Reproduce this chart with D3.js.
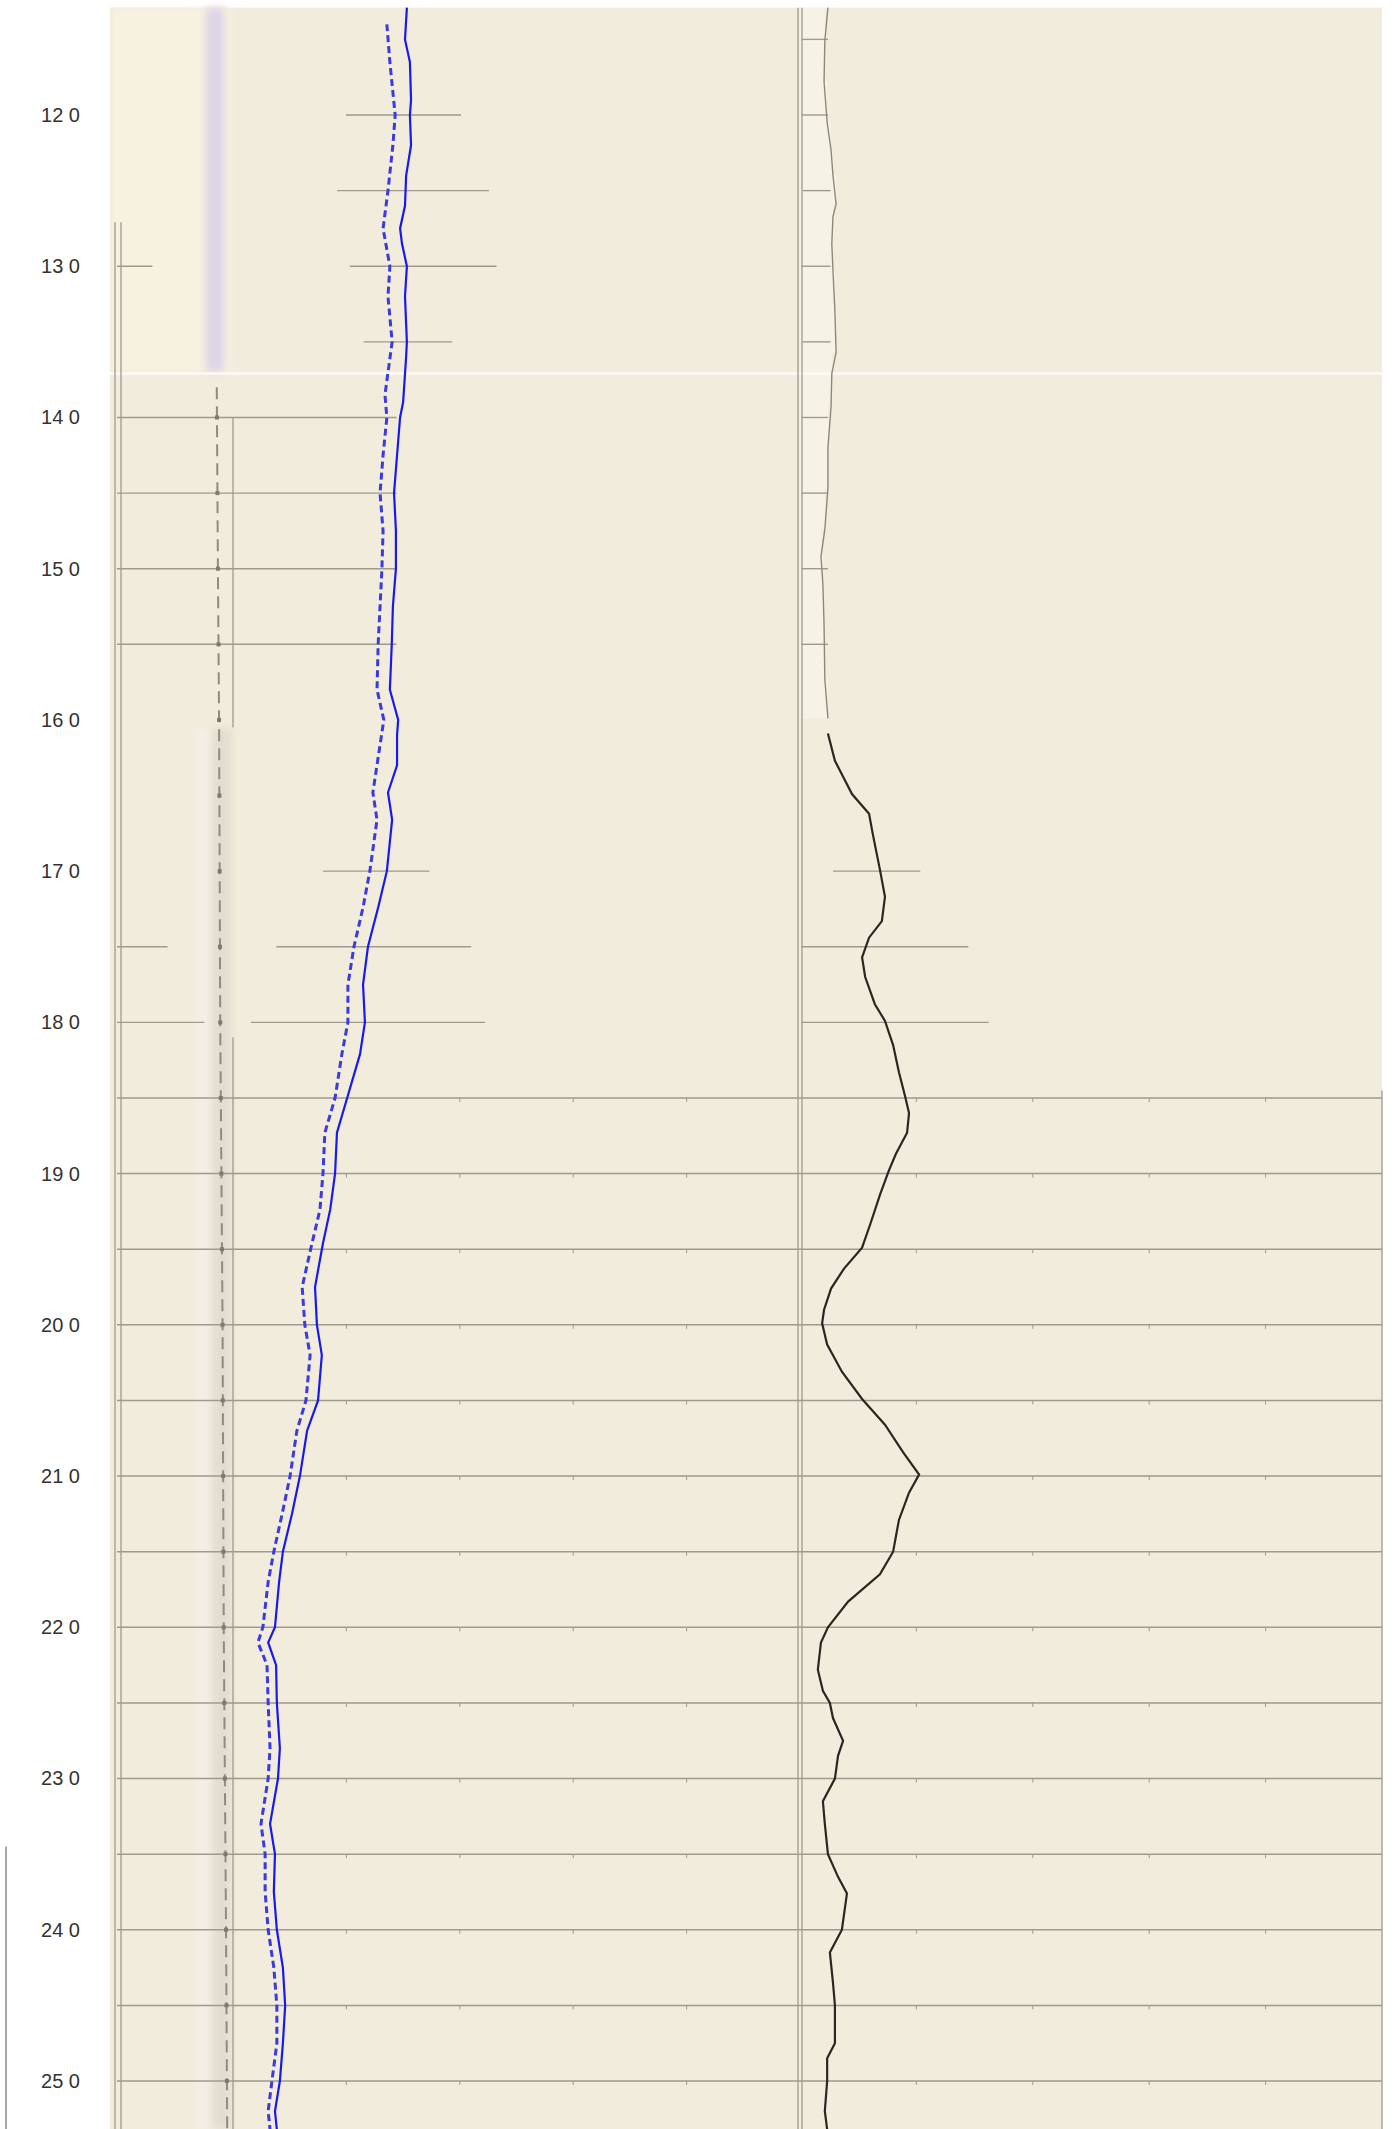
<!DOCTYPE html>
<html>
<head>
<meta charset="utf-8">
<script src="https://cdn.jsdelivr.net/npm/d3@7"></script>
<style>
    body { margin: 0; background: #fff; }
    svg { display: block; }
</style>
</head>
<body>
<div id="chart-area"></div>
<script>
// depth labels every 10, grid every 5
const depthTicks = d3.range(120, 251, 10);
const gridDepths = d3.range(115, 251, 5);

// blue solid curve (track 1) [depth, value]
const solidCurve = [
    [112.9, 46.0], [115, 45.5], [116.5, 46.8], [119, 47.1], [120, 46.8], [122, 47.1], [124, 45.8],
    [126, 45.5], [127.5, 44.2], [128.5, 44.7], [130, 46.0], [132, 45.5], [135, 46.0], [136, 45.8],
    [139, 45.0], [140, 44.2], [142.5, 43.4], [145, 42.6], [147.5, 43.1], [150, 43.1], [152.5, 42.3],
    [155, 42.0], [158, 41.5], [160, 43.7], [161, 43.4], [163, 43.4], [164.8, 41.0], [166.6, 42.1],
    [170, 40.7], [172.4, 38.4], [175, 35.7], [177.5, 34.4], [180, 34.9], [182.1, 33.6], [185, 30.2],
    [187.3, 27.5], [190, 27.0], [192.4, 25.7], [194.6, 23.8], [197.5, 21.7], [200, 22.2], [202, 23.5],
    [205, 22.5], [207, 19.6], [210, 17.7], [212.5, 15.6], [215, 13.2], [217, 12.2], [220, 11.1],
    [221, 9.3], [222.5, 11.4], [225, 11.6], [228, 12.4], [230, 11.9], [233, 9.8], [235, 11.1],
    [237.5, 10.8], [240, 11.6], [242.5, 13.2], [245, 13.8], [247.5, 13.2], [250, 12.4], [252, 11.1],
    [253.2, 11.6]
];

// blue dashed curve (track 1)
const dashedCurve = [
    [114, 40.7], [116.5, 41.5], [120, 42.9], [122, 42.3], [125, 41.0], [127.5, 39.7], [130, 41.5],
    [132, 41.0], [135, 42.1], [138.5, 40.2], [140, 40.7], [142.5, 39.7], [145, 38.9], [147.5, 39.7],
    [150, 39.4], [152.5, 38.9], [155, 38.4], [158, 38.1], [160, 39.9], [164.8, 37.0], [166.6, 38.1],
    [170, 36.2], [172.4, 34.4], [175, 32.0], [177.5, 30.4], [180, 30.4], [182.1, 28.8], [185, 27.0],
    [187.3, 24.3], [190, 23.8], [192.4, 23.0], [194.6, 20.9], [197.5, 18.3], [200, 19.0], [202, 20.4],
    [205, 19.3], [207, 16.9], [210, 15.1], [212.5, 13.0], [215, 10.8], [217, 9.3], [220, 7.9],
    [221, 6.6], [222.5, 9.0], [225, 9.3], [228, 9.8], [230, 9.3], [233, 7.4], [235, 8.5],
    [237.5, 8.5], [240, 9.3], [242.5, 10.8], [245, 11.6], [247.5, 11.6], [250, 10.3], [252, 9.3],
    [253.2, 9.8]
];

// black curve (track 2)
const blackCurve = [
    [160.9, 7.2], [162.7, 9.0], [164.9, 13.4], [166.2, 17.8], [167.6, 18.8], [169.9, 20.6], [171.7, 21.9],
    [173.3, 21.1], [174.4, 17.8], [175.7, 16.0], [177.0, 16.8], [178.8, 19.3], [179.9, 21.9], [181.5, 24.0],
    [183.3, 25.5], [184.9, 27.1], [186.0, 28.1], [187.3, 27.6], [188.7, 24.7], [189.8, 22.9], [191.4, 20.6],
    [193.2, 18.3], [194.9, 16.0], [196.3, 11.3], [197.6, 8.0], [199.0, 6.2], [199.9, 5.7], [201.3, 7.0],
    [203.1, 10.8], [204.9, 16.0], [206.6, 21.9], [208.4, 26.5], [209.9, 30.7], [211.1, 28.1], [212.9, 25.5],
    [215.0, 24.0], [216.5, 20.6], [218.3, 12.4], [220.0, 7.2], [221.0, 5.4], [222.8, 4.6], [224.2, 5.9],
    [225.0, 7.7], [226.0, 8.5], [227.5, 11.1], [228.5, 9.8], [230.0, 9.0], [231.5, 5.9], [233.0, 6.4],
    [235.0, 7.2], [236.5, 9.8], [237.6, 12.1], [240.0, 10.8], [241.5, 7.7], [243.5, 8.5], [245.0, 9.0],
    [247.5, 9.0], [248.5, 7.0], [250.0, 7.0], [252.0, 6.4], [253.2, 7.0]
];

// faint edge line at the top of track 2
const upperEdge = [
    [112.9, 7.2], [115.1, 6.4], [117.8, 6.2], [120.5, 7.0], [122.3, 8.0], [124.0, 8.5], [125.9, 9.3],
    [126.7, 8.5], [128.5, 8.2], [130.3, 8.5], [133.0, 9.0], [135.7, 9.3], [137.1, 8.2], [139.3, 8.0],
    [142.0, 7.2], [144.7, 7.2], [147.4, 6.4], [149.2, 5.4], [151.0, 5.9], [153.7, 6.2], [157.3, 6.4],
    [159.9, 7.2]
];

// gray dashed curve in the narrow left track
const leftCurve = [
    [138, 8.6], [150, 8.7], [160, 8.8], [180, 8.9], [200, 9.1], [220, 9.2], [240, 9.4], [253.2, 9.5]
];

// short grid pieces in the upper section [depth, from, to] (fraction of panel width)
const upperGrid = [
    [115, 0.541, 0.562],
    [120, 0.181, 0.272], [120, 0.541, 0.562],
    [125, 0.174, 0.294], [125, 0.542, 0.564],
    [130, 0, 0.028], [130, 0.184, 0.300], [130, 0.541, 0.564],
    [135, 0.195, 0.265], [135, 0.542, 0.564],
    [140, 0, 0.221], [140, 0.541, 0.562],
    [145, 0, 0.221], [145, 0.541, 0.562],
    [150, 0, 0.221], [150, 0.541, 0.562],
    [155, 0, 0.221], [155, 0.541, 0.562],
    [170, 0.163, 0.247], [170, 0.566, 0.635],
    [175, 0, 0.040], [175, 0.126, 0.280], [175, 0.541, 0.673],
    [180, 0, 0.069], [180, 0.106, 0.291], [180, 0.541, 0.689]
];

const width = 1394, height = 2129;
const cream = "#f2ecdc", gridColor = "#9f998f";

const svg = d3.select("#chart-area").append("svg")
    .attr("width", width)
    .attr("height", height);

const defs = svg.append("defs");
defs.append("filter").attr("id", "blur4").attr("x", "-50%").attr("y", "-50%")
    .attr("width", "200%").attr("height", "200%")
    .append("feGaussianBlur").attr("stdDeviation", 4);
defs.append("filter").attr("id", "blur2").attr("x", "-50%").attr("y", "-50%")
    .attr("width", "200%").attr("height", "200%")
    .append("feGaussianBlur").attr("stdDeviation", 2);

// Scales
const y = d3.scaleLinear().domain([120, 250]).range([115, 2081]);
const xLeft = d3.scaleLinear().domain([0, 10]).range([117, 233]);
const x1 = d3.scaleLinear().domain([0, 150]).range([233, 800]);
const x2 = d3.scaleLinear().domain([0, 150]).range([800, 1382]);
const panelX = d3.scaleLinear().domain([0, 1]).range([117, 1382]);

const yTop = y(112.9), yBot = height;

// Background panel
svg.append("rect")
    .attr("x", 110).attr("y", yTop)
    .attr("width", 1382 - 110).attr("height", yBot - yTop)
    .attr("fill", cream);

// soft patches
const fx = svg.append("g");
fx.append("rect")
    .attr("x", 112).attr("y", yTop).attr("width", 120).attr("height", y(137) - yTop)
    .attr("fill", "#f6f2df").attr("filter", "url(#blur2)");
fx.append("rect")
    .attr("x", 206).attr("y", yTop).attr("width", 18).attr("height", y(137) - yTop)
    .attr("fill", "#ddd4e6").attr("filter", "url(#blur4)");
fx.append("rect")
    .attr("x", 196).attr("y", y(160.6)).attr("width", 14).attr("height", yBot - y(160.6))
    .attr("fill", "#f4eee6").attr("filter", "url(#blur2)");
fx.append("rect")
    .attr("x", 213).attr("y", y(160.6)).attr("width", 18).attr("height", yBot - y(160.6))
    .attr("fill", "#dcd5cb").attr("opacity", 0.7).attr("filter", "url(#blur4)");

// pale column in the upper part of track 2
fx.append("path")
    .datum(upperEdge)
    .attr("fill", "#f6f3e6")
    .attr("d", d3.area()
        .y(d => y(d[0]))
        .x0(x2(0))
        .x1(d => x2(d[1]))
        .curve(d3.curveStepAfter));

// blurred bands
fx.append("line")
    .attr("x1", 150).attr("x2", 1382).attr("y1", y(130)).attr("y2", y(130))
    .attr("stroke", "#d6cfbe").attr("stroke-width", 9).attr("filter", "url(#blur4)");
fx.append("line")
    .attr("x1", 112).attr("x2", 1382).attr("y1", y(160.6)).attr("y2", y(160.6))
    .attr("stroke", "#d3ccbd").attr("stroke-width", 7).attr("filter", "url(#blur2)");
fx.append("line")
    .attr("x1", 110).attr("x2", 1382).attr("y1", y(137.1)).attr("y2", y(137.1))
    .attr("stroke", "#fbf9f2").attr("stroke-width", 3);
fx.append("line")
    .attr("x1", 1379).attr("x2", 1379).attr("y1", yTop).attr("y2", y(184.5))
    .attr("stroke", "#d9d1c0").attr("stroke-width", 6).attr("filter", "url(#blur2)");

// Frame lines
const frame = svg.append("g")
    .attr("stroke", gridColor)
    .attr("stroke-width", 1.3)
    .attr("fill", "none");

[115, 121].forEach(xx => {
    frame.append("line")
        .attr("x1", xx).attr("x2", xx)
        .attr("y1", y(127.1)).attr("y2", yBot);
});
[[140, 160.5], [181, 253.2]].forEach(seg => {
    frame.append("line")
        .attr("x1", xLeft(10)).attr("x2", xLeft(10))
        .attr("y1", y(seg[0])).attr("y2", y(seg[1]));
});
[x1(150) - 2, x2(0) + 2].forEach(xx => {
    frame.append("line")
        .attr("x1", xx).attr("x2", xx)
        .attr("y1", yTop).attr("y2", yBot);
});
frame.append("line")
    .attr("x1", x2(150)).attr("x2", x2(150))
    .attr("y1", y(184.5)).attr("y2", yBot);
frame.append("line")
    .attr("x1", 6).attr("x2", 6)
    .attr("y1", y(234.5)).attr("y2", yBot)
    .attr("stroke", "#777");

// Grid lines: full width in the lower section
const lowerGrid = gridDepths.filter(d => d >= 185);
svg.append("g").selectAll("line")
    .data(lowerGrid)
    .join("line")
    .attr("x1", panelX(0)).attr("x2", panelX(1))
    .attr("y1", d => y(d)).attr("y2", d => y(d))
    .attr("stroke", gridColor)
    .attr("stroke-width", 1.5);

// minor ticks on the lower grid lines
const minorVals = [30, 60, 90, 120];
const tickG = svg.append("g").attr("stroke", gridColor).attr("stroke-width", 1);
lowerGrid.forEach(d => {
    minorVals.forEach(v => {
        [x1(v), x2(v)].forEach(xx => {
            tickG.append("line")
                .attr("x1", xx).attr("x2", xx)
                .attr("y1", y(d)).attr("y2", y(d) + 4);
        });
    });
});

// upper grid pieces
svg.append("g").selectAll("line")
    .data(upperGrid)
    .join("line")
    .attr("x1", d => panelX(d[1])).attr("x2", d => panelX(d[2]))
    .attr("y1", d => y(d[0])).attr("y2", d => y(d[0]))
    .attr("stroke", gridColor)
    .attr("stroke-width", 1.4);

// Left track gray dashed curve
svg.append("path")
    .datum(leftCurve)
    .attr("fill", "none")
    .attr("stroke", "#8f8a84")
    .attr("stroke-width", 2)
    .attr("stroke-dasharray", "12,7")
    .attr("d", d3.line().y(d => y(d[0])).x(d => xLeft(d[1])));

const leftAt = d3.scaleLinear()
    .domain(leftCurve.map(d => d[0]))
    .range(leftCurve.map(d => d[1]));
svg.append("g").selectAll("rect")
    .data(gridDepths.filter(d => d >= 140))
    .join("rect")
    .attr("x", d => xLeft(leftAt(d)) - 2)
    .attr("y", d => y(d) - 2)
    .attr("width", 4).attr("height", 4)
    .attr("fill", "#7e7870");

// Curves
const line1 = d3.line().y(d => y(d[0])).x(d => x1(d[1]));
const line2 = d3.line().y(d => y(d[0])).x(d => x2(d[1]));

svg.append("path")
    .datum(upperEdge)
    .attr("fill", "none")
    .attr("stroke", "#8e887c")
    .attr("stroke-width", 1.4)
    .attr("d", line2);

svg.append("path")
    .datum(dashedCurve)
    .attr("fill", "none")
    .attr("stroke", "#3a3ae0")
    .attr("stroke-width", 3)
    .attr("stroke-dasharray", "7,4")
    .attr("d", line1);

svg.append("path")
    .datum(solidCurve)
    .attr("fill", "none")
    .attr("stroke", "#1818f2")
    .attr("stroke-width", 2.2)
    .attr("d", line1);

svg.append("path")
    .datum(blackCurve)
    .attr("fill", "none")
    .attr("stroke", "#2a2723")
    .attr("stroke-width", 2.2)
    .attr("d", line2);

// Depth axis
const depthAxis = d3.axisLeft(y)
    .tickValues(depthTicks)
    .tickSize(0)
    .tickPadding(0)
    .tickFormat(d => String(d).slice(0, -1) + " " + String(d).slice(-1));

const axisG = svg.append("g")
    .attr("transform", "translate(80,0)")
    .call(depthAxis);
axisG.select(".domain").remove();
axisG.selectAll("text")
    .attr("fill", "#333")
    .style("font-family", "'Liberation Sans', Arial, sans-serif")
    .style("font-size", "20px");
</script>
</body>
</html>
